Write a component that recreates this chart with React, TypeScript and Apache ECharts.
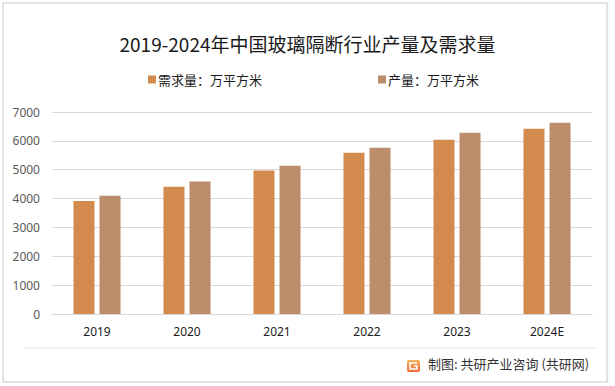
import React, { useEffect, useRef } from "react";
import * as echarts from "echarts";

const categories = ["2019", "2020", "2021", "2022", "2023", "2024E"];
const demand = [3920, 4410, 4970, 5590, 6040, 6420];
const production = [4100, 4590, 5140, 5760, 6280, 6630];
const seriesNames = ["需求量：万平方米", "产量：万平方米"];
const titleText = "2019-2024年中国玻璃隔断行业产量及需求量";
const footerText = "制图: 共研产业咨询 (共研网)";

export default function App() {
  const ref = useRef<HTMLDivElement>(null);
  useEffect(() => {
    document.body.style.margin = "0";
    const chart = echarts.init(ref.current!, null, { renderer: "svg" });
    chart.setOption({
      animation: false,
      backgroundColor: "#ffffff",
      title: {
        text: titleText,
        left: "center",
        top: 29,
        textStyle: { fontFamily: "'Noto Sans CJK SC'", fontSize: 19, fontWeight: "normal", color: "#1a1a1a" },
      },
      legend: {
        data: seriesNames,
        top: 68,
        left: 143,
        itemGap: 116,
        itemWidth: 8,
        itemHeight: 8,
        icon: "rect",
        textStyle: { fontFamily: "'Noto Sans CJK SC'", fontSize: 13, color: "#1a1a1a", padding: [0, 0, 0, -3] },
      },
      grid: { left: 52, right: 23, top: 112, bottom: 72, containLabel: false },
      xAxis: {
        type: "category",
        data: categories,
        axisLine: { lineStyle: { color: "#d9d9d9" } },
        axisTick: { show: false },
        axisLabel: { color: "#1a1a1a", fontSize: 12, fontFamily: "'Noto Sans'", margin: 11 },
      },
      yAxis: {
        type: "value",
        min: 0,
        max: 7000,
        interval: 1000,
        axisLine: { show: false },
        axisTick: { show: false },
        splitLine: { lineStyle: { color: "#d9d9d9" } },
        axisLabel: { color: "#595959", fontSize: 12, fontFamily: "'Noto Sans'", margin: 12, formatter: (v: number) => String(v) },
      },
      series: [
        { name: seriesNames[0], type: "bar", data: demand, barWidth: 21, barGap: "24%", itemStyle: { color: "#D38B4D" } },
        { name: seriesNames[1], type: "bar", data: production, barWidth: 21, itemStyle: { color: "#BC8C6B" } },
      ],
      graphic: [
        { type: "rect", shape: { x: 3, y: 3, width: 604, height: 379 }, style: { fill: "none", stroke: "#d9d9d9", lineWidth: 1.5 }, silent: true },
        { type: "line", shape: { x1: 25, y1: 348, x2: 597, y2: 348 }, style: { stroke: "#e6e6e6", lineWidth: 1 } },
        {
          type: "rect",
          shape: { x: 407, y: 360, width: 13, height: 12, r: 2 },
          style: {
            fill: new echarts.graphic.LinearGradient(0, 0, 0, 1, [
              { offset: 0, color: "#F9B15C" },
              { offset: 1, color: "#EE6A3A" },
            ]),
          },
        },
        { type: "polyline", shape: { points: [[417, 363], [410, 363], [410, 369], [417, 369], [417, 366], [414, 366]] }, style: { stroke: "#fff", lineWidth: 1.6, fill: "none" } },
        { type: "text", x: 428, y: 357, style: { text: footerText, fill: "#333333", font: "13px 'Noto Sans CJK SC'" } },
      ],
    });
    return () => chart.dispose();
  }, []);
  return <div ref={ref} style={{ width: 615, height: 386 }} />;
}
